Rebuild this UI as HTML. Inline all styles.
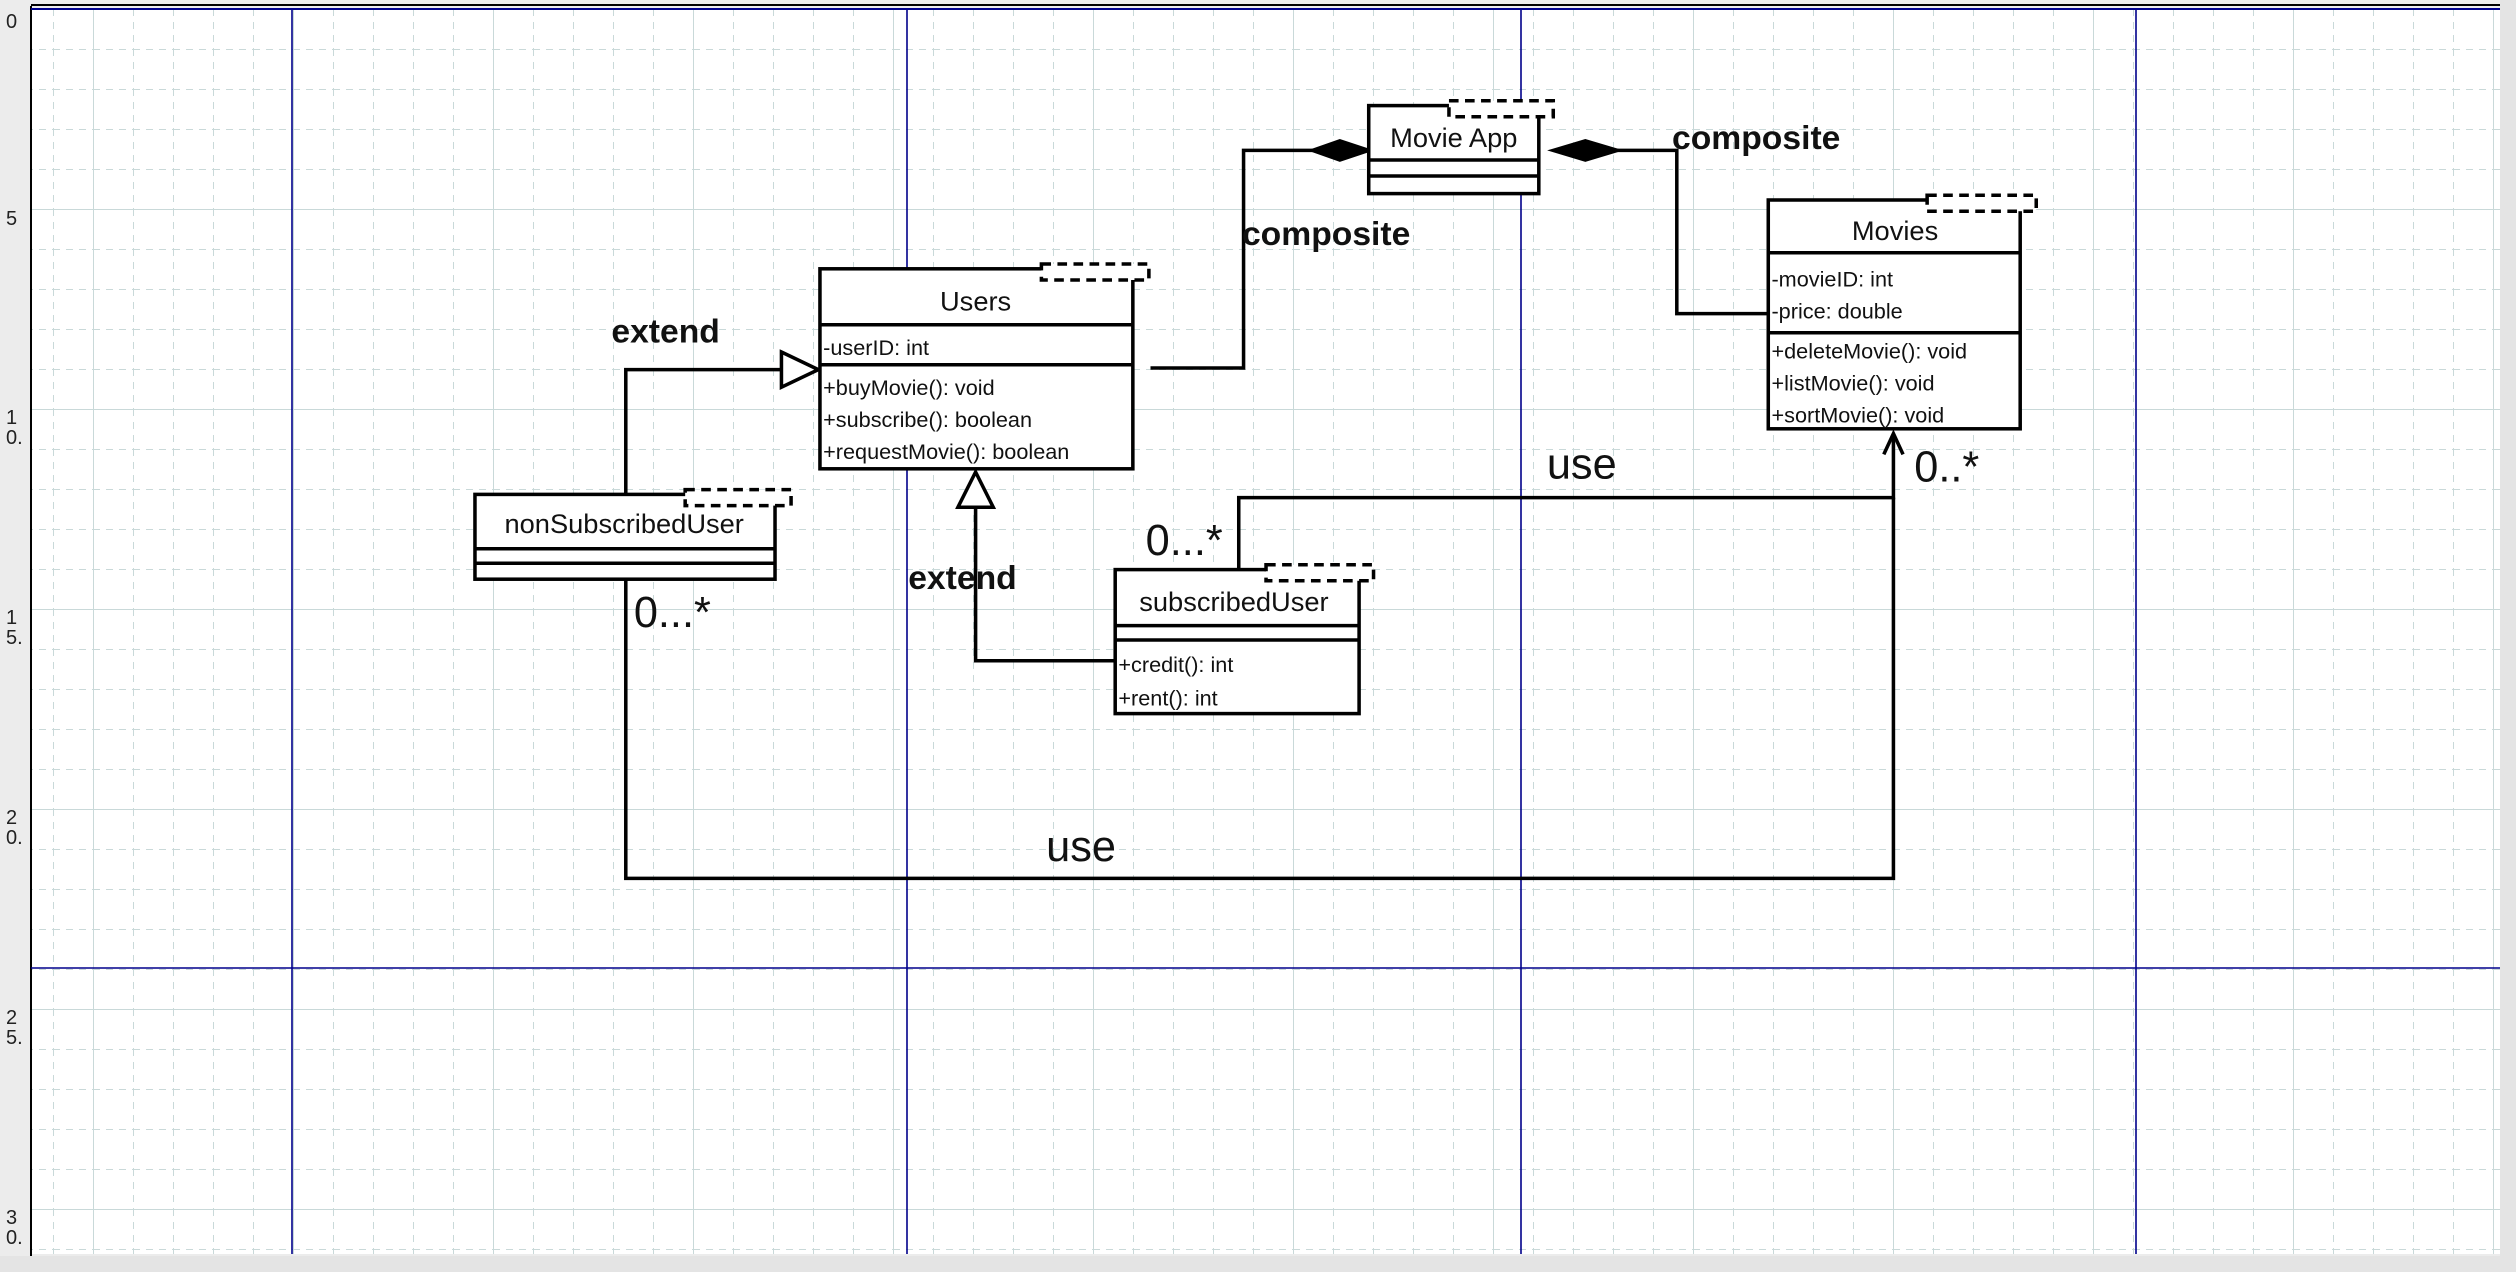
<!DOCTYPE html>
<html><head><meta charset="utf-8"><style>
html,body{margin:0;padding:0;background:#fff;}
svg{display:block;}
text{font-family:"Liberation Sans",sans-serif;}
</style></head><body>
<svg width="2516" height="1272" viewBox="0 0 2516 1272" xmlns="http://www.w3.org/2000/svg">
<defs>
<pattern id="minor" patternUnits="userSpaceOnUse" x="13" y="9" width="40" height="40">
<line x1="0" y1="0" x2="40" y2="0" stroke="#c9d9d9" stroke-width="2" stroke-dasharray="7,6"/>
<line x1="0" y1="0" x2="0" y2="40" stroke="#c9d9d9" stroke-width="2" stroke-dasharray="7,6"/>
</pattern>
<pattern id="major" patternUnits="userSpaceOnUse" x="93" y="9" width="200" height="200">
<line x1="0" y1="0" x2="200" y2="0" stroke="#c9d9d9" stroke-width="2"/>
<line x1="0" y1="0" x2="0" y2="200" stroke="#c9d9d9" stroke-width="2"/>
</pattern>
</defs>
<rect x="0" y="0" width="2516" height="1272" fill="#ececec"/>
<rect x="31" y="9" width="2469" height="1245" fill="#fff"/>
<rect x="31" y="9" width="2469" height="1245" fill="url(#minor)"/>
<rect x="31" y="9" width="2469" height="1245" fill="url(#major)"/>
<line x1="31" y1="6" x2="31" y2="1256" stroke="#000" stroke-width="2"/>
<line x1="31" y1="5" x2="2500" y2="5" stroke="#000" stroke-width="2"/>
<line x1="31" y1="9" x2="2500" y2="9" stroke="#00008b" stroke-width="2"/>
<g stroke="#00008b" stroke-width="1.6">
<line x1="292" y1="9" x2="292" y2="1254"/>
<line x1="907" y1="9" x2="907" y2="1254"/>
<line x1="1521" y1="9" x2="1521" y2="1254"/>
<line x1="2136" y1="9" x2="2136" y2="1254"/>
<line x1="31" y1="968" x2="2500" y2="968"/>
</g>
<g font-size="20" fill="#222">
<text x="6" y="28">0</text>
<text x="6" y="225">5</text>
<text x="6" y="424">1</text><text x="6" y="444">0.</text>
<text x="6" y="624">1</text><text x="6" y="644">5.</text>
<text x="6" y="824">2</text><text x="6" y="844">0.</text>
<text x="6" y="1024">2</text><text x="6" y="1044">5.</text>
<text x="6" y="1224">3</text><text x="6" y="1244">0.</text>
</g>
<rect x="2500" y="0" width="16" height="1272" fill="#e4e4e4"/>
<rect x="0" y="1256" width="2516" height="16" fill="#e4e4e4"/>

<g transform="scale(1.6046 1.6)">
<g fill="none" stroke="#000" stroke-width="2.2">
<polyline points="390,309 390,231 487,231"/>
<polygon points="487,220 510,231 487,242" fill="#fff"/>
<polyline points="695,413 608,413 608,317"/>
<polygon points="597,317 608,295 619,317" fill="#fff"/>
<polyline points="717,230 775,230 775,94 818,94"/>
<polygon points="818,94 835,88 853,94 835,100" fill="#000"/>
<polyline points="1102,196 1045,196 1045,94 1008,94"/>
<polygon points="968,94 988,88 1008,94 988,100" fill="#000"/>
<polyline points="772,356 772,311 1180,311 1180,271"/>
<polyline points="390,362 390,549 1180,549 1180,311"/>
<polyline points="1174,284 1180,271 1186,284"/>
</g>

<g stroke="#000" stroke-width="2.2" fill="#fff">
<rect x="511" y="168" width="195" height="125"/>
<line x1="511" y1="203" x2="706" y2="203"/>
<line x1="511" y1="228" x2="706" y2="228"/>
<rect x="296" y="309" width="187" height="53"/>
<line x1="296" y1="343" x2="483" y2="343"/>
<line x1="296" y1="352" x2="483" y2="352"/>
<rect x="853" y="66" width="106" height="55"/>
<line x1="853" y1="100" x2="959" y2="100"/>
<line x1="853" y1="110" x2="959" y2="110"/>
<rect x="1102" y="125" width="157" height="143"/>
<line x1="1102" y1="158" x2="1259" y2="158"/>
<line x1="1102" y1="208" x2="1259" y2="208"/>
<rect x="695" y="356" width="152" height="90"/>
<line x1="695" y1="391" x2="847" y2="391"/>
<line x1="695" y1="400" x2="847" y2="400"/>
</g>
<g stroke="#000" stroke-width="2.2" fill="#fff" stroke-dasharray="6,4">
<rect x="649" y="165" width="67" height="10"/>
<rect x="427" y="306" width="66" height="10"/>
<rect x="903" y="63" width="65" height="10"/>
<rect x="1201" y="122" width="68" height="10"/>
<rect x="789" y="353" width="67" height="10"/>
</g>

<g fill="#111">
<g font-size="17" text-anchor="middle">
<text x="608" y="194">Users</text>
<text x="389" y="333">nonSubscribedUser</text>
<text x="906" y="92">Movie App</text>
<text x="1181" y="150">Movies</text>
<text x="769" y="382">subscribedUser</text>
</g>
<g font-size="13.5">
<text x="513" y="222">-userID: int</text>
<text x="513" y="247">+buyMovie(): void</text>
<text x="513" y="267">+subscribe(): boolean</text>
<text x="513" y="287">+requestMovie(): boolean</text>
<text x="1104" y="179">-movieID: int</text>
<text x="1104" y="199">-price: double</text>
<text x="1104" y="224">+deleteMovie(): void</text>
<text x="1104" y="244">+listMovie(): void</text>
<text x="1104" y="264">+sortMovie(): void</text>
<text x="697" y="420">+credit(): int</text>
<text x="697" y="441">+rent(): int</text>
</g>
<g font-size="21" font-weight="bold">
<text x="381" y="214">extend</text>
<text x="566" y="368">extend</text>
<text x="774" y="153">composite</text>
<text x="1042" y="93">composite</text>
</g>
<g font-size="27">
<text x="964" y="299">use</text>
<text x="652" y="538">use</text>
<text x="714" y="347">0...*</text>
<text x="395" y="392">0...*</text>
<text x="1193" y="301">0..*</text>
</g>
</g>
</g>
</svg>
</body></html>
